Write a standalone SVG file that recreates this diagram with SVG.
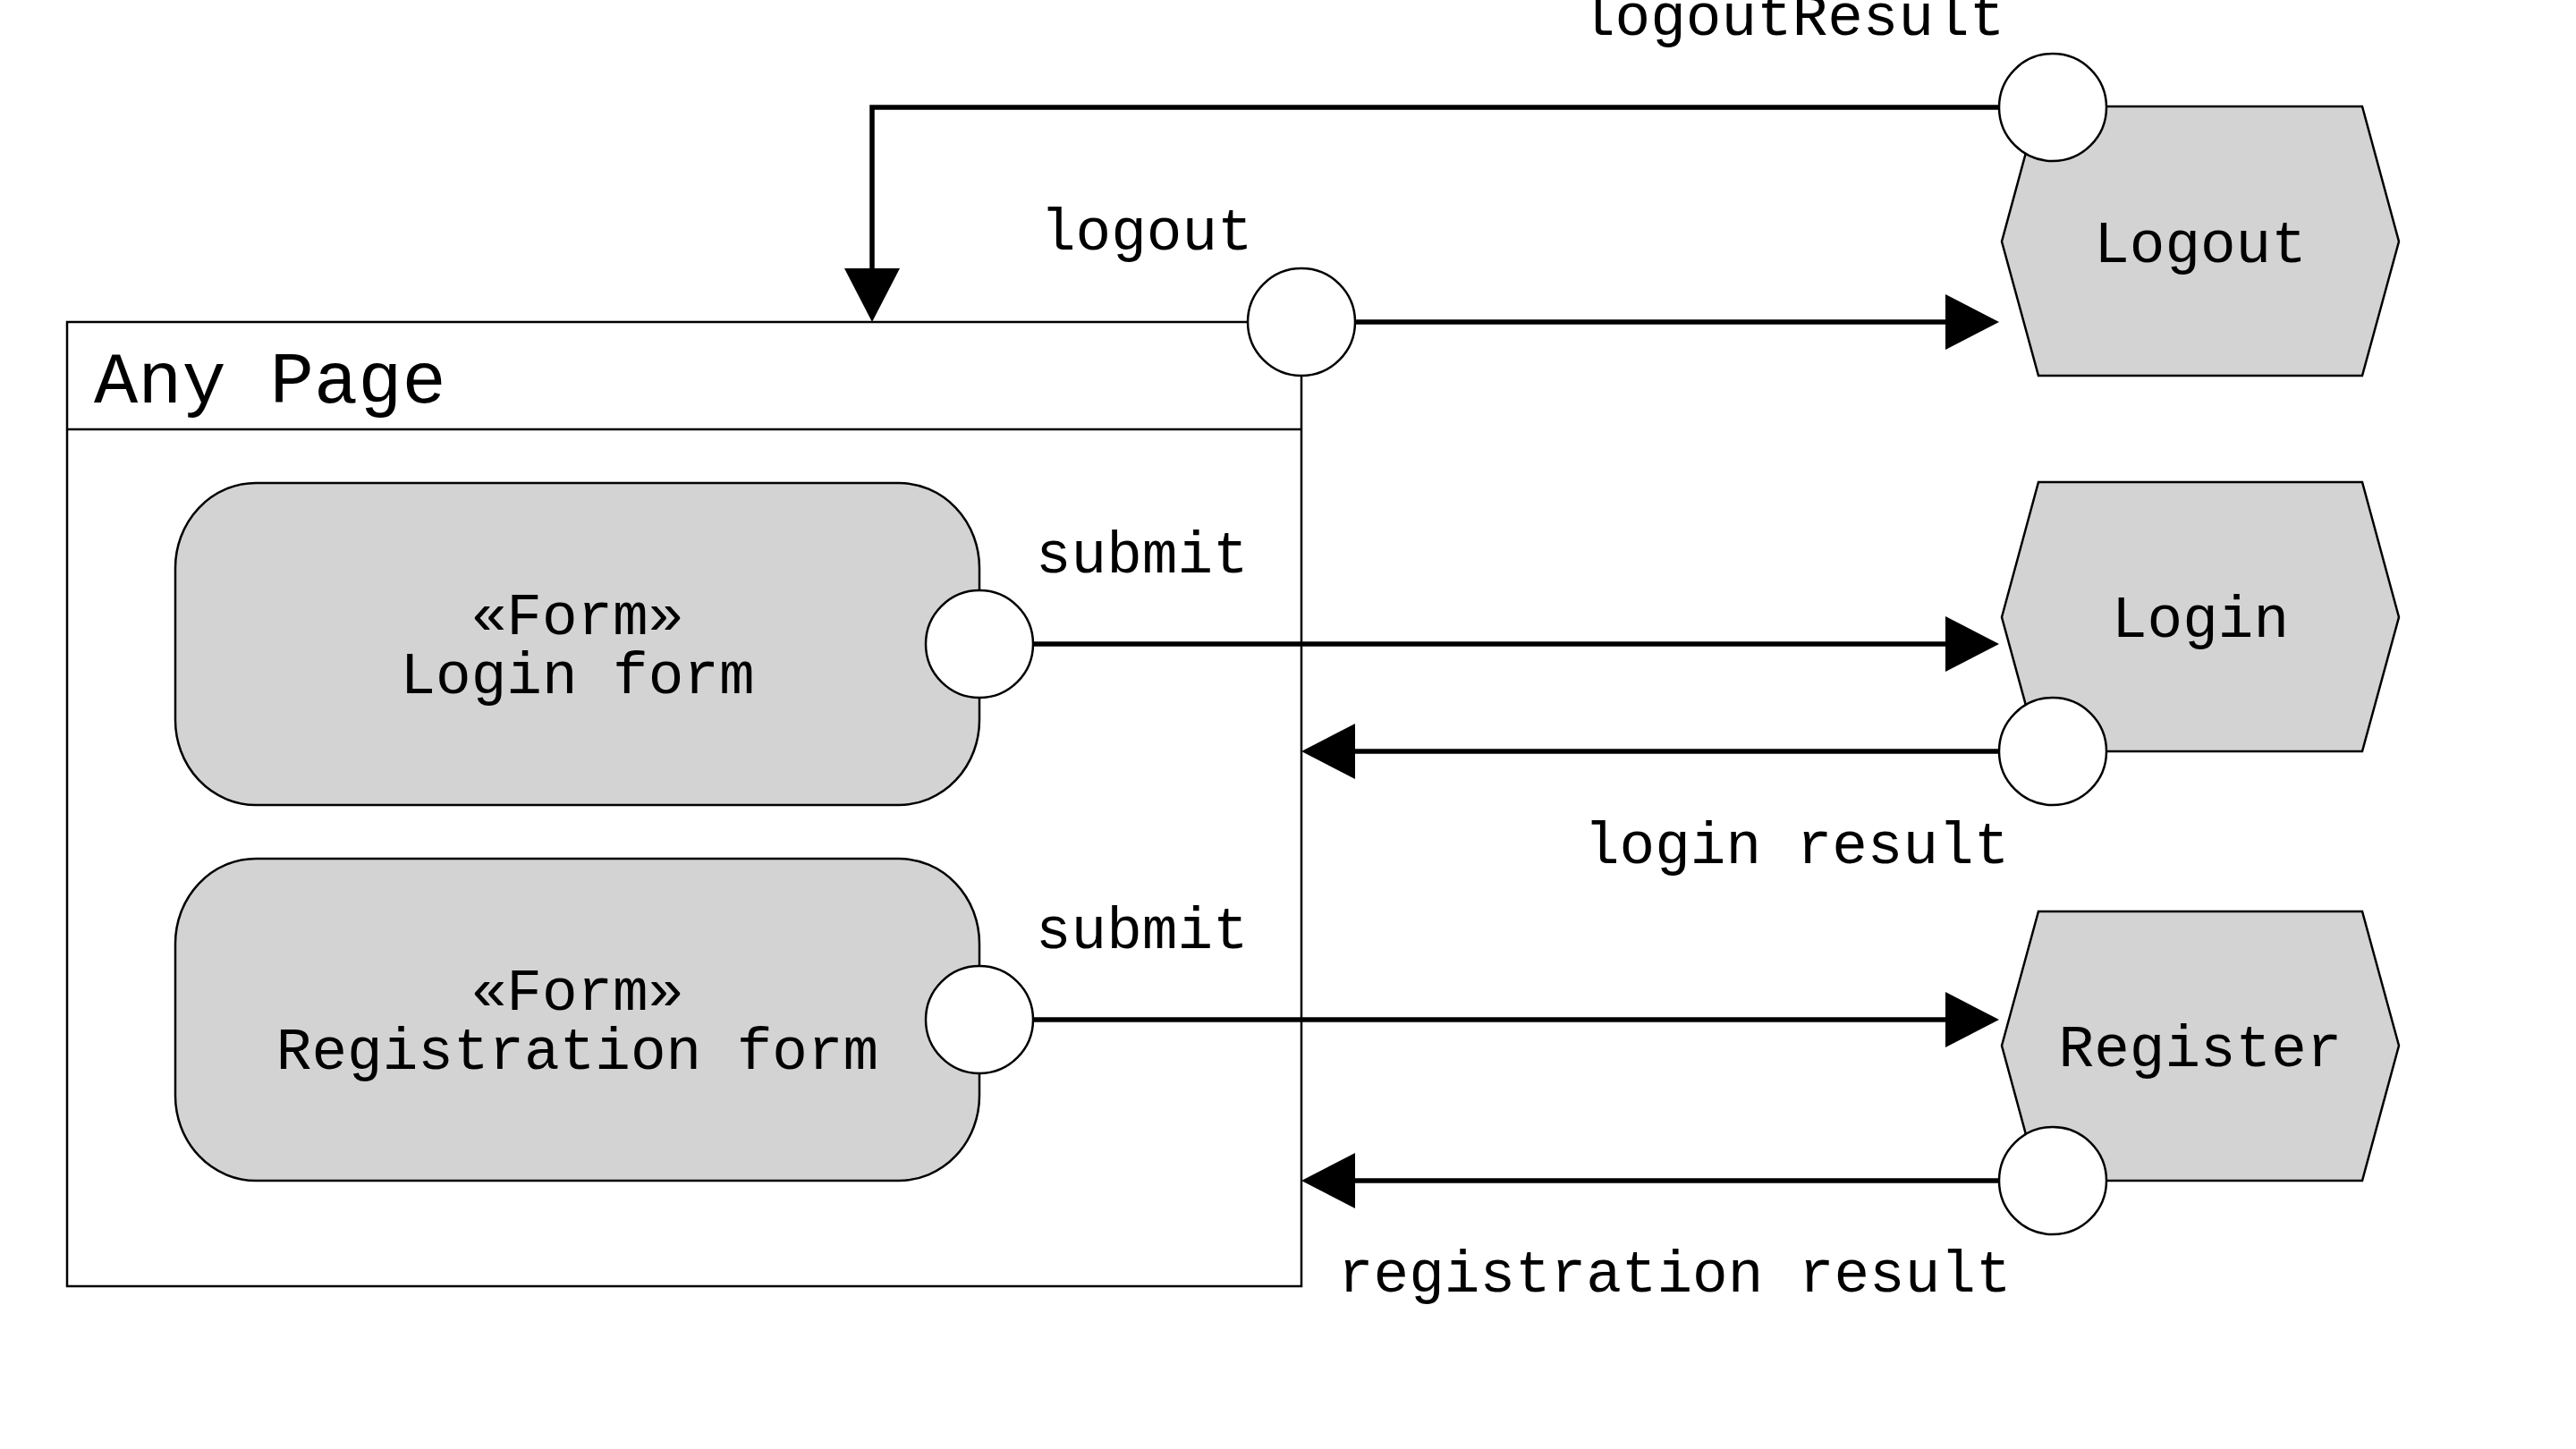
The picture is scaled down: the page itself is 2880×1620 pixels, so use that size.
<svg xmlns="http://www.w3.org/2000/svg" width="2880" height="1620" viewBox="0 0 2880 1620">
  <style>
    text { font-family: "Liberation Mono", "Courier New", monospace; fill: #000; }
    .lbl { font-size: 66px; }
    .title { font-size: 82px; }
    .mid { text-anchor: middle; }
    .frame { fill: #fff; stroke: #000; stroke-width: 2.5; }
    .form { fill: #d3d3d3; stroke: #000; stroke-width: 2.5; }
    .hex { fill: #d3d3d3; stroke: #000; stroke-width: 2.5; }
    .port { fill: #fff; stroke: #000; stroke-width: 2.5; }
    .conn { fill: none; stroke: #000; stroke-width: 5.5; marker-end: url(#arr); }
  </style>
  <defs>
    <marker id="arr" markerUnits="userSpaceOnUse" viewBox="0 0 60 62" markerWidth="60" markerHeight="62" refX="0" refY="31" orient="auto">
      <path d="M0,0 L60,31 L0,62 Z" fill="#000"/>
    </marker>
  </defs>
  <rect width="2880" height="1620" fill="#fff"/>

  <g id="any-page">
    <rect class="frame" x="75" y="360" width="1380" height="1078"/>
    <line x1="75" y1="480" x2="1455" y2="480" stroke="#000" stroke-width="2.5"/>
    <text class="title" x="105" y="450">Any Page</text>
  </g>

  <g id="login-form">
    <rect class="form" x="196" y="540" width="899" height="360" rx="90" ry="95"/>
    <text class="lbl mid" x="645.5" y="709">«Form»</text>
    <text class="lbl mid" x="645.5" y="775">Login form</text>
  </g>

  <g id="registration-form">
    <rect class="form" x="196" y="960" width="899" height="360" rx="90" ry="95"/>
    <text class="lbl mid" x="645.5" y="1129">«Form»</text>
    <text class="lbl mid" x="645.5" y="1195">Registration form</text>
  </g>

  <g id="logout">
    <polygon class="hex" points="2238,270 2279,119 2641,119 2682,270 2641,420 2279,420"/>
    <text class="lbl mid" x="2460" y="293">Logout</text>
  </g>

  <g id="login">
    <polygon class="hex" points="2238,690 2279,539 2641,539 2682,690 2641,840 2279,840"/>
    <text class="lbl mid" x="2460" y="712">Login</text>
  </g>

  <g id="register">
    <polygon class="hex" points="2238,1169 2279,1019 2641,1019 2682,1169 2641,1320 2279,1320"/>
    <text class="lbl mid" x="2460" y="1192">Register</text>
  </g>

  <g id="connectors">
    <path class="conn" d="M2235,120 H975 V300"/>
    <path class="conn" d="M1515,360 H2175"/>
    <path class="conn" d="M1155,720 H2175"/>
    <path class="conn" d="M2235,840 H1515"/>
    <path class="conn" d="M1155,1140 H2175"/>
    <path class="conn" d="M2235,1320 H1515"/>
  </g>

  <g id="ports">
    <circle class="port" cx="2295" cy="120" r="60"/>
    <circle class="port" cx="1455" cy="360" r="60"/>
    <circle class="port" cx="1095" cy="720" r="60"/>
    <circle class="port" cx="2295" cy="840" r="60"/>
    <circle class="port" cx="1095" cy="1140" r="60"/>
    <circle class="port" cx="2295" cy="1320" r="60"/>
  </g>

  <g id="labels">
    <text class="lbl" x="1766" y="39">logoutResult</text>
    <text class="lbl" x="1163" y="279">logout</text>
    <text class="lbl" x="1158" y="640">submit</text>
    <text class="lbl" x="1771" y="965">login result</text>
    <text class="lbl" x="1158" y="1060">submit</text>
    <text class="lbl" x="1496" y="1444">registration result</text>
  </g>
</svg>
